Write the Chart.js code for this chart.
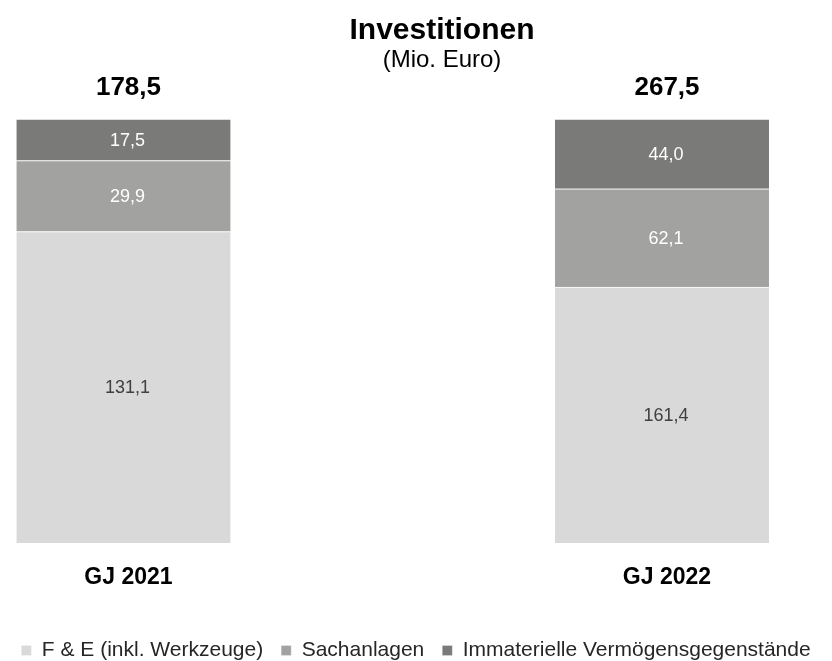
<!DOCTYPE html>
<html>
<head>
<meta charset="utf-8">
<script src="https://cdn.jsdelivr.net/npm/chart.js@4"></script>
<style>
  html, body { margin: 0; padding: 0; background: #fff; }
  #wrap { width: 832px; height: 661px; }
</style>
</head>
<body>
<div id="wrap"><canvas id="investChart"></canvas></div>
<script>
const years = ['GJ 2021', 'GJ 2022'];
const seriesNames = ['F & E (inkl. Werkzeuge)', 'Sachanlagen', 'Immaterielle Vermögensgegenstände'];
const fueValues = [131.1, 161.4];
const sachanlagenValues = [29.9, 62.1];
const immaterielleValues = [17.5, 44.0];
const totalValues = [178.5, 267.5];

const FONT = "'Liberation Sans', Arial, sans-serif";

function fmt(v) {
    return v.toFixed(1).replace('.', ',');
}

// every bar is drawn as 100 % of its year's total
function toShare(values) {
    return values.map((v, i) => ({ x: i, y: v / totalValues[i] * 100 }));
}

// segment values, totals and the heading
const labelPlugin = {
    id: 'valueLabels',
    afterDatasetsDraw(chart) {
        const ctx = chart.ctx;
        ctx.save();
        ctx.textAlign = 'center';
        ctx.textBaseline = 'middle';
        ctx.font = '18px ' + FONT;
        chart.data.datasets.forEach((ds, di) => {
            const meta = chart.getDatasetMeta(di);
            ctx.fillStyle = ds.labelColor;
            meta.data.forEach((bar, i) => {
                ctx.fillText(fmt(ds.values[i]), bar.x + 4, (bar.y + bar.base) / 2 + 1);
            });
        });

        const topMeta = chart.getDatasetMeta(chart.data.datasets.length - 1);
        ctx.fillStyle = '#000';
        ctx.font = 'bold 26px ' + FONT;
        topMeta.data.forEach((bar, i) => {
            ctx.fillText(fmt(totalValues[i]), bar.x + 5, bar.y - 31);
        });

        ctx.font = 'bold 30px ' + FONT;
        ctx.fillText('Investitionen', 442, 31);
        ctx.font = '24px ' + FONT;
        ctx.fillText('(Mio. Euro)', 442, 60);
        ctx.restore();
    }
};

new Chart(document.getElementById('investChart'), {
    type: 'bar',
    data: {
        datasets: [
            {
                label: seriesNames[0],
                data: toShare(fueValues),
                values: fueValues,
                backgroundColor: '#d9d9d9',
                labelColor: '#404040'
            },
            {
                label: seriesNames[1],
                data: toShare(sachanlagenValues),
                values: sachanlagenValues,
                backgroundColor: '#a2a3a1',
                labelColor: '#ffffff'
            },
            {
                label: seriesNames[2],
                data: toShare(immaterielleValues),
                values: immaterielleValues,
                backgroundColor: '#7a7a78',
                labelColor: '#ffffff'
            }
        ]
    },
    options: {
        responsive: true,
        maintainAspectRatio: false,
        animation: false,
        layout: {
            padding: { top: 119, bottom: -10, left: 0, right: 0 }
        },
        datasets: {
            bar: {
                barThickness: 214,
                borderColor: '#ffffff',
                borderWidth: { top: 1 },
                borderSkipped: 'start'
            }
        },
        scales: {
            x: {
                type: 'linear',
                stacked: true,
                offset: false,
                min: -0.2293,
                max: 1.3157,
                grid: { display: false, drawTicks: false, offset: false },
                border: { display: false },
                afterBuildTicks: scale => {
                    scale.ticks = years.map((_, i) => ({ value: i }));
                },
                afterFit: scale => {
                    scale.height = 79;
                },
                ticks: {
                    callback: v => years[v],
                    padding: 21,
                    labelOffset: 5,
                    autoSkip: false,
                    maxRotation: 0,
                    color: '#000',
                    font: { family: FONT, size: 23, weight: 'bold' }
                }
            },
            y: {
                stacked: true,
                display: false,
                min: 0,
                max: 100
            }
        },
        plugins: {
            legend: {
                position: 'bottom',
                labels: {
                    boxWidth: 10,
                    boxHeight: 10,
                    padding: 18,
                    color: '#262626',
                    font: { family: FONT, size: 21 }
                }
            },
            tooltip: { enabled: false }
        }
    },
    plugins: [labelPlugin]
});
</script>
</body>
</html>
